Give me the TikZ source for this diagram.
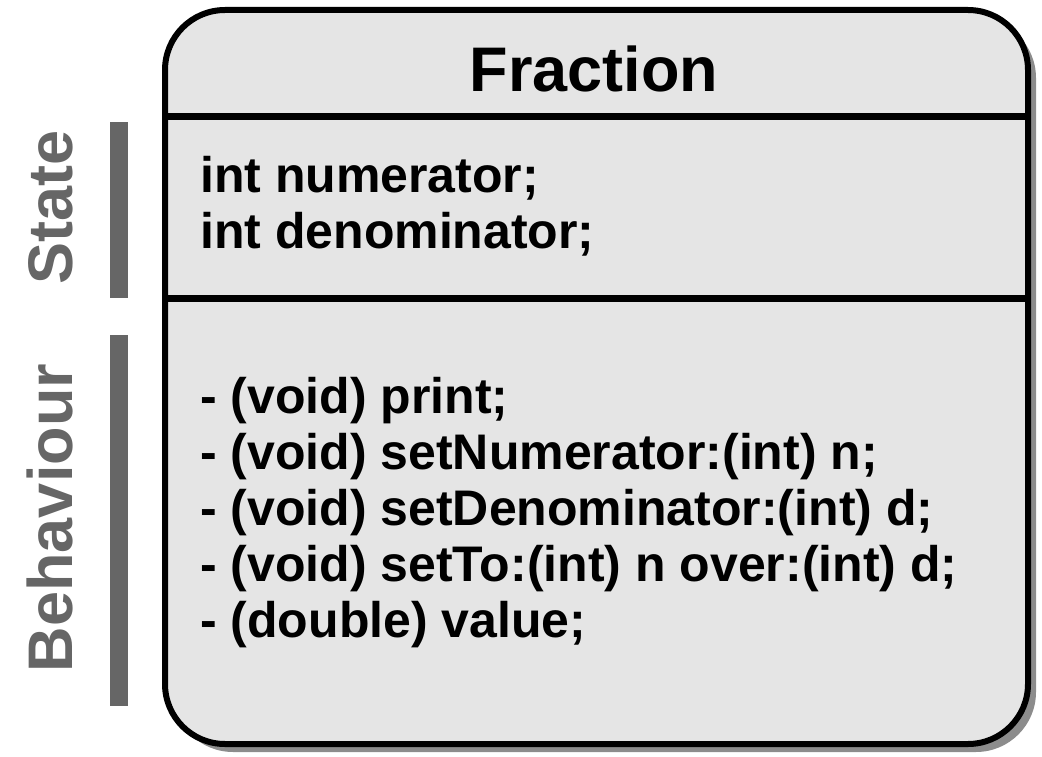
\documentclass[tikz,border=0pt]{standalone}
\usepackage{fontspec}
\setmainfont{Liberation Sans}
\usetikzlibrary{shadows}
\definecolor{boxfill}{HTML}{E5E5E5}
\definecolor{bargray}{HTML}{666666}

\begin{document}
\begin{tikzpicture}[x=1pt,y=-1pt,
    classbox/.style={draw=black, line width=6pt, fill=boxfill, rounded corners=60pt,
      drop shadow={shadow xshift=8pt, shadow yshift=-8pt, fill=black!45, opacity=1}},
    divider/.style={draw=black, line width=7pt},
    sidebar/.style={fill=bargray},
    sidelbl/.style={rotate=90, anchor=base, text=bargray, font=\fontsize{63}{63}\selectfont\bfseries},
    members/.style={anchor=base west, align=left, inner sep=0pt, font=\fontsize{50}{56}\selectfont\bfseries}]
  \useasboundingbox (0,0) rectangle (1042,757);

  % class box and its compartments
  \coordinate (nw) at (165,10);
  \coordinate (se) at (1028,744);
  \draw[classbox] (nw) rectangle (se);
  \draw[divider] (nw |- 0,117) -- (se |- 0,117);
  \draw[divider] (nw |- 0,298) -- (se |- 0,298);

  % class name and members (base = last line)
  \node[anchor=base, inner sep=0pt, font=\fontsize{63}{63}\selectfont\bfseries] (title) at (594,92) {Fraction};
  \node[members] (state) at (200,248) {int numerator;\\int denominator;};
  \node[members] (behav) at (200,637) {- (void) print;\\- (void) setNumerator:(int) n;\\- (void) setDenominator:(int) d;\\- (void) setTo:(int) n over:(int) d;\\- (double) value;};

  % side labels
  \fill[sidebar] (110,122) rectangle (128,298);
  \fill[sidebar] (110,335) rectangle (128,706);
  \node[sidelbl] (statelbl) at (72,207) {State};
  \node[sidelbl] (behavlbl) at (72,518) {Behaviour};
\end{tikzpicture}
\end{document}
